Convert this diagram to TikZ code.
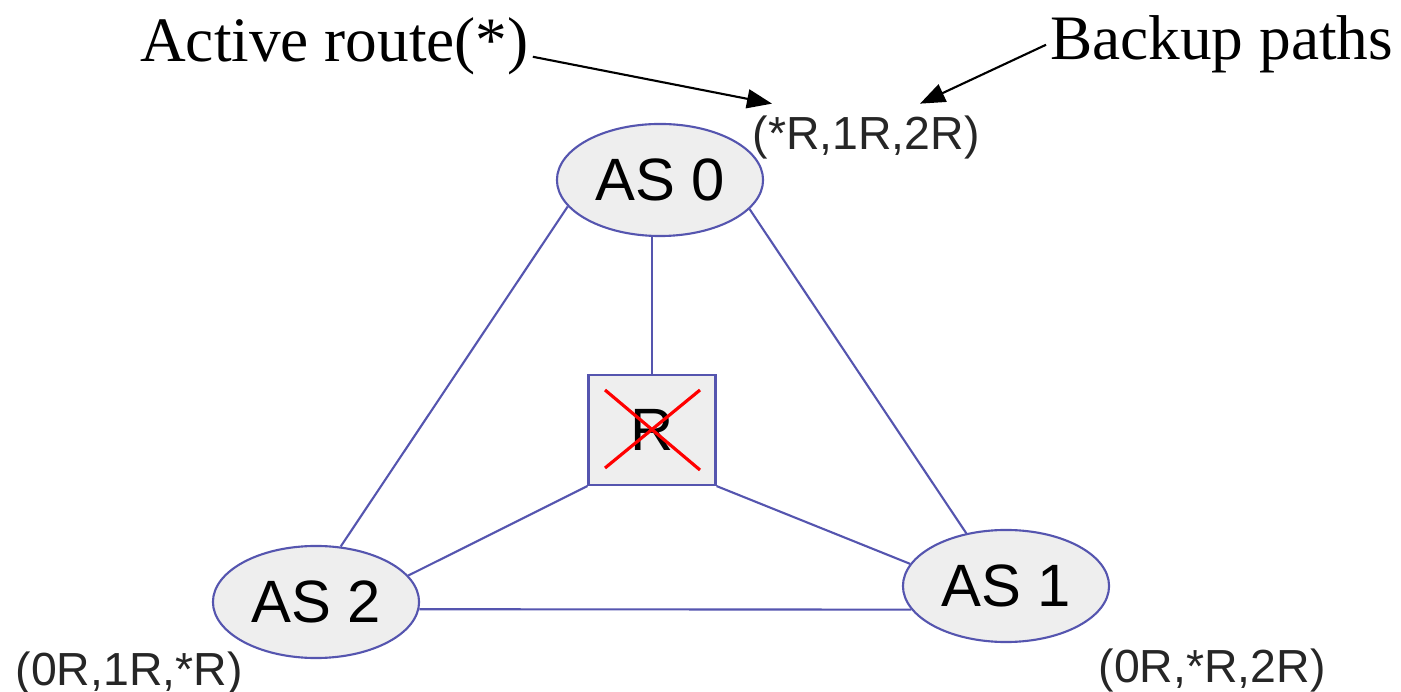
\documentclass[tikz,border=0pt]{standalone}
\usepackage{fontspec}
\setmainfont{Liberation Serif}
\setsansfont{Liberation Sans}
\usetikzlibrary{arrows.meta, shapes.geometric}
\definecolor{linkblue}{RGB}{85, 85, 175}
\definecolor{nodegray}{RGB}{238, 238, 238}

\begin{document}
\begin{tikzpicture}[
    x=0.01cm, y=-0.01cm,
    asnode/.style={ellipse, draw=linkblue, line width=0.6pt, fill=nodegray, minimum width=2.06cm, minimum height=1.12cm, inner sep=0pt, font=\sffamily\fontsize{17}{20}\selectfont},
    router/.style={rectangle, draw=linkblue, line width=0.6pt, fill=nodegray, minimum width=1.27cm, minimum height=1.1cm, inner sep=0pt, font=\sffamily\fontsize{17}{20}\selectfont},
    route/.style={anchor=base west, inner sep=0pt, text=black!85, font=\sffamily\fontsize{13.2}{16}\selectfont},
    note/.style={anchor=base west, inner sep=1pt, font=\fontsize{18}{22}\selectfont},
    link/.style={linkblue, line width=0.6pt},
    pointer/.style={-{Triangle[length=0.25cm, width=0.19cm]}, line width=0.6pt},
]
\useasboundingbox (0,0) rectangle (1401,692);

% Nodes
\node[asnode] (as0) at (660,180) {AS 0};
\node[asnode] (as1) at (1006,586) {AS 1};
\node[asnode] (as2) at (316,602) {AS 2};
\node[router] (r) at (652,430) {R};

% Route labels
\node[route] (lbl0) at (752,150) {(*R,1R,2R)};
\node[route] (lbl1) at (1098,682) {(0R,*R,2R)};
\node[route] (lbl2) at (15,685) {(0R,1R,*R)};

% Notes
\node[note] (active) at (136,62) {Active route(*)};
\node[note] (backup) at (1046,60) {Backup paths};

% Links
\draw[link] (r.north) -- (r.north |- as0.south);
\draw[link] (as0.196) -- (as2.66);
\draw[link] (as0.-18) -- (as1.127);
\draw[link] (r.south west) -- (as2.16);
\draw[link] (r.south east) -- (as1.167);
\draw[link] (as2.-4.5) -- (as1.194.5);

% Failed router
\draw[red, line width=0.9pt] ([shift={(-47,-40)}]r.center) -- ([shift={(48,40)}]r.center);
\draw[red, line width=0.9pt] ([shift={(48,-40)}]r.center) -- ([shift={(-47,38)}]r.center);

% Pointers
\draw[pointer] ([yshift=-0.1cm]active.east) -- ([shift={(20,-12)}]lbl0.north west);
\draw[pointer] (backup.west) -- ([shift={(168,-12)}]lbl0.north west);

\end{tikzpicture}
\end{document}
